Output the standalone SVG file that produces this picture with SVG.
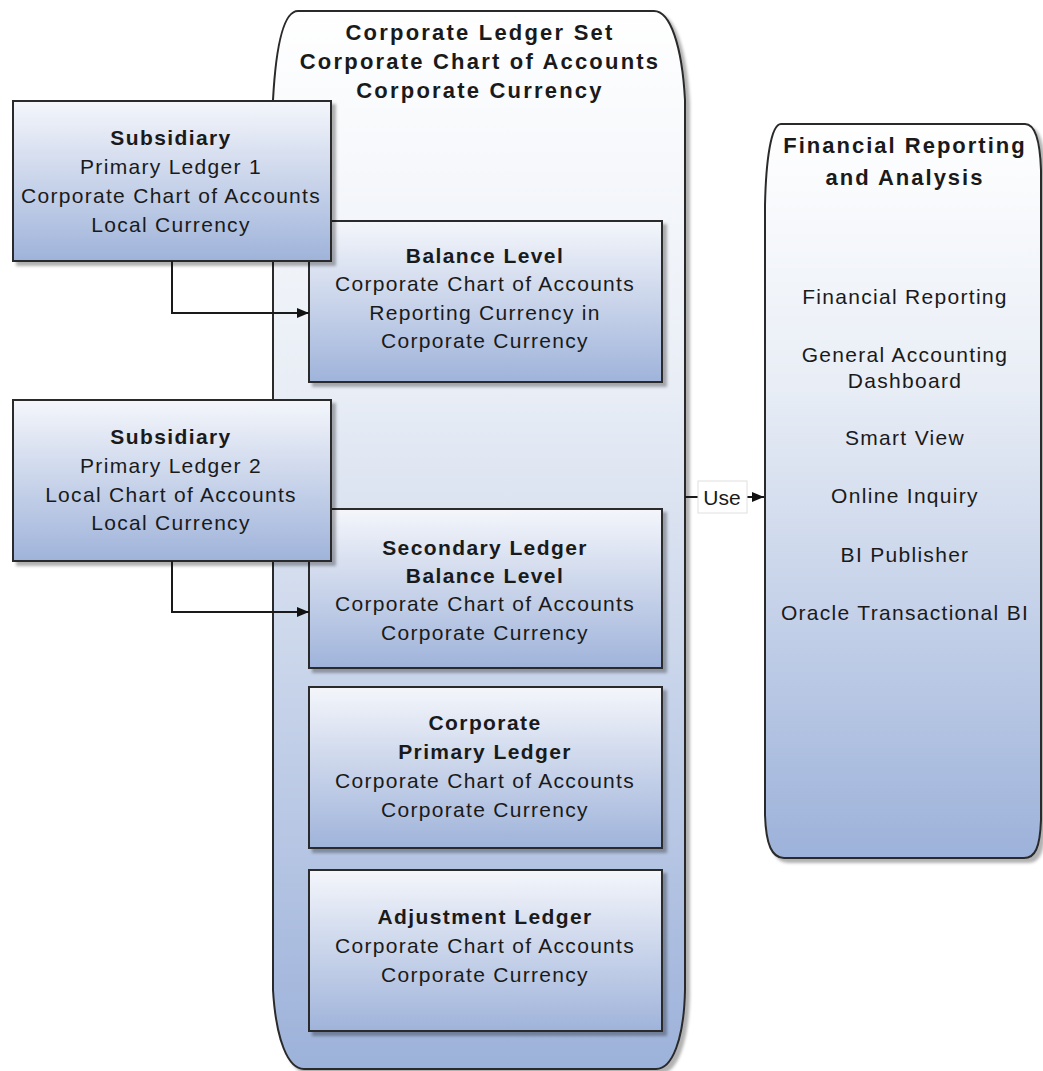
<svg xmlns="http://www.w3.org/2000/svg" width="1043" height="1071" viewBox="0 0 1043 1071">
<defs>
<linearGradient id="gCont" x1="0" y1="0" x2="0" y2="1">
<stop offset="0" stop-color="#ffffff"/>
<stop offset="0.35" stop-color="#e9eef6"/>
<stop offset="1" stop-color="#9db2da"/>
</linearGradient>
<linearGradient id="gBox" x1="0" y1="0" x2="0" y2="1">
<stop offset="0" stop-color="#f4f6fb"/>
<stop offset="1" stop-color="#9fb3da"/>
</linearGradient>
<filter id="sh" x="-5%" y="-5%" width="115%" height="115%">
<feDropShadow dx="4" dy="4" stdDeviation="1.5" flood-color="#000" flood-opacity="0.3"/>
</filter>
<marker id="arr" viewBox="0 0 12 10" refX="12" refY="5" markerWidth="12" markerHeight="10" markerUnits="userSpaceOnUse" orient="auto">
<path d="M0,0 L12,5 L0,10 Z" fill="#111"/>
</marker>
</defs>
<style>
.cont{fill:url(#gCont);stroke:#2a2a2a;stroke-width:2;filter:url(#sh)}
.box{fill:url(#gBox);stroke:#2a2a2a;stroke-width:2;filter:url(#sh)}
text{font-family:"Liberation Sans",Arial,sans-serif;fill:#1a1a1a;text-anchor:middle}
.b{font-weight:bold;font-size:22px;letter-spacing:2.2px}
.bb{font-weight:bold;font-size:21px;letter-spacing:1.4px}
.r{font-size:21px;letter-spacing:1.3px}
.con{fill:none;stroke:#1a1a1a;stroke-width:2}
</style>

<g id="corporate-ledger-set">
<path class="cont" d="M298,11 H654 C670,11 682,45 685,100 V990 C684,1040 672,1069 656,1069 H304 C288,1069 276,1040 273,990 V100 C276,45 284,11 298,11 Z"/>
<text class="b" x="480" y="40">Corporate Ledger Set</text>
<text class="b" x="480" y="69">Corporate Chart of Accounts</text>
<text class="b" x="480" y="98">Corporate Currency</text>
</g>

<g id="financial-reporting">
<path class="cont" d="M781,124 H1025 C1035,124 1040,140 1041,170 V820 C1040,848 1035,858 1024,858 H784 C772,858 766,845 765,815 V205 C766,160 771,124 781,124 Z"/>
<text class="b" x="905" y="153" style="letter-spacing:2px">Financial Reporting</text>
<text class="b" x="905" y="185" style="letter-spacing:2px">and Analysis</text>
<text class="r" x="905" y="304">Financial Reporting</text>
<text class="r" x="905" y="362">General Accounting</text>
<text class="r" x="905" y="388">Dashboard</text>
<text class="r" x="905" y="445">Smart View</text>
<text class="r" x="905" y="503">Online Inquiry</text>
<text class="r" x="905" y="562">BI Publisher</text>
<text class="r" x="905" y="620">Oracle Transactional BI</text>
</g>

<g id="balance-level">
<rect class="box" x="309" y="221" width="353" height="161"/>
<text class="bb" x="485" y="263">Balance Level</text>
<text class="r" x="485" y="291">Corporate Chart of Accounts</text>
<text class="r" x="485" y="320">Reporting Currency in</text>
<text class="r" x="485" y="348">Corporate Currency</text>
</g>

<g id="secondary-ledger">
<rect class="box" x="309" y="509" width="353" height="159"/>
<text class="bb" x="485" y="555">Secondary Ledger</text>
<text class="bb" x="485" y="583">Balance Level</text>
<text class="r" x="485" y="611">Corporate Chart of Accounts</text>
<text class="r" x="485" y="640">Corporate Currency</text>
</g>

<g id="corporate-primary-ledger">
<rect class="box" x="309" y="687" width="353" height="161"/>
<text class="bb" x="485" y="730">Corporate</text>
<text class="bb" x="485" y="759">Primary Ledger</text>
<text class="r" x="485" y="788">Corporate Chart of Accounts</text>
<text class="r" x="485" y="817">Corporate Currency</text>
</g>

<g id="adjustment-ledger">
<rect class="box" x="309" y="870" width="353" height="161"/>
<text class="bb" x="485" y="924">Adjustment Ledger</text>
<text class="r" x="485" y="953">Corporate Chart of Accounts</text>
<text class="r" x="485" y="982">Corporate Currency</text>
</g>

<g id="subsidiary-1">
<rect class="box" x="13" y="101" width="318" height="160"/>
<text class="bb" x="171" y="145">Subsidiary</text>
<text class="r" x="171" y="174">Primary Ledger 1</text>
<text class="r" x="171" y="203">Corporate Chart of Accounts</text>
<text class="r" x="171" y="232">Local Currency</text>
</g>

<g id="subsidiary-2">
<rect class="box" x="13" y="400" width="318" height="161"/>
<text class="bb" x="171" y="444">Subsidiary</text>
<text class="r" x="171" y="473">Primary Ledger 2</text>
<text class="r" x="171" y="502">Local Chart of Accounts</text>
<text class="r" x="171" y="530">Local Currency</text>
</g>

<g id="connectors">
<path class="con" d="M172,261 V313 H309" marker-end="url(#arr)"/>
<path class="con" d="M172,561 V612 H309" marker-end="url(#arr)"/>
<path class="con" d="M685,497 H764" marker-end="url(#arr)"/>
<rect x="698" y="481" width="49" height="32" fill="#fff" stroke="#e0e0e0" stroke-width="1"/>
<text x="722" y="505" style="font-size:21px">Use</text>
</g>
</svg>
